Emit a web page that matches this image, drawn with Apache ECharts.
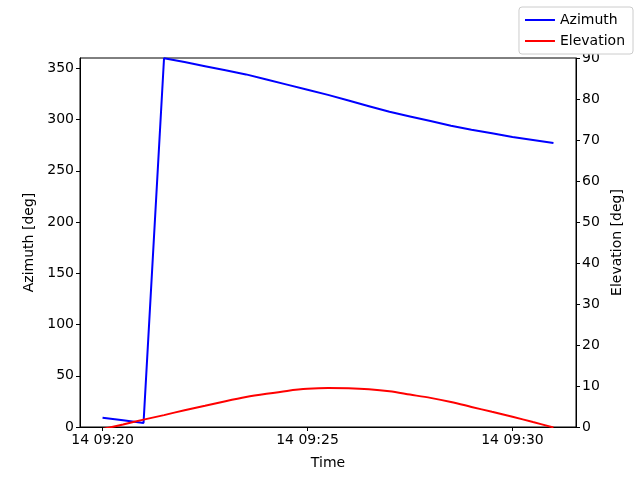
<!DOCTYPE html>
<html>
<head>
<meta charset="utf-8">
<script src="https://cdn.jsdelivr.net/npm/echarts@6/dist/echarts.min.js"></script>
<style>
  html, body { margin: 0; padding: 0; background: #fff; }
  #chart { width: 640px; height: 480px; }
</style>
</head>
<body>
<div id="chart"></div>
<script>
// sample times (day 14), every 30 s
var day = '14'
var times = ['09:20:00','09:20:30','09:21:00','09:21:30','09:22:00','09:22:30','09:23:00','09:23:30',
  '09:24:00','09:24:30','09:25:00','09:25:30','09:26:00','09:26:30','09:27:00','09:27:30',
  '09:28:00','09:28:30','09:29:00','09:29:30','09:30:00','09:30:30','09:31:00']
var azimuth = [9, 6.5, 4, 359.8, 356, 352, 348, 344, 339, 334, 329, 324, 318.5, 313,
  307.5, 303, 298.5, 294, 290, 286.5, 283, 280, 277]
var elevation = [-0.5, 0.6, 1.8, 2.9, 4.1, 5.2, 6.3, 7.3, 8.1, 8.8, 9.3, 9.5, 9.45, 9.2,
  8.7, 7.9, 7.1, 6.1, 4.9, 3.7, 2.5, 1.2, -0.1]
var timeTicks = ['09:20:00', '09:25:00', '09:30:00']
var azTicks = [0, 50, 100, 150, 200, 250, 300, 350]

// time string -> minutes of the hour
function toMin(s) {
  var p = s.split(':')
  return (+p[0]) * 60 + (+p[1]) + (+p[2]) / 60
}
function fmt(v) {
  var h = Math.floor(v / 60), m = Math.round(v - h * 60)
  return day + ' ' + String(h).padStart(2, '0') + ':' + String(m).padStart(2, '0')
}

var tx = times.map(toMin)
var t0 = tx[0], t1 = tx[tx.length - 1]
var pad = (t1 - t0) * 0.05

var chart = echarts.init(document.getElementById('chart'))
var font = 'DejaVu Sans'
var axisCommon = {
  axisLine: { show: true, lineStyle: { color: '#000', width: 1 } },
  axisTick: { show: true, inside: false, length: 4, lineStyle: { color: '#000' } },
  axisLabel: { color: '#000', fontSize: 14, fontFamily: font },
  splitLine: { show: false },
  nameTextStyle: { color: '#000', fontSize: 14, fontFamily: font }
}

var option = {
  animation: false,
  backgroundColor: '#fff',
  textStyle: { fontFamily: font },
  grid: {
    left: 80, right: 64, top: 58, bottom: 53,
    show: true, borderColor: '#000', borderWidth: 1
  },
  legend: {
    orient: 'vertical',
    right: 7, top: 7,
    icon: 'rect',
    itemWidth: 30, itemHeight: 2,
    itemGap: 7,
    padding: [6, 8, 6, 6],
    backgroundColor: '#fff',
    borderColor: '#ccc', borderWidth: 1, borderRadius: 3,
    textStyle: { color: '#000', fontSize: 14, fontFamily: font },
    data: ['Azimuth', 'Elevation']
  },
  xAxis: Object.assign({}, axisCommon, {
    type: 'value',
    min: t0 - pad, max: t1 + pad,
    name: 'Time', nameLocation: 'middle', nameGap: 29,
    axisLabel: Object.assign({}, axisCommon.axisLabel, {
      customValues: timeTicks.map(toMin), formatter: fmt, margin: 6
    }),
    axisTick: Object.assign({}, axisCommon.axisTick, { customValues: timeTicks.map(toMin) })
  }),
  yAxis: [
    Object.assign({}, axisCommon, {
      type: 'value', min: 0, max: 360, position: 'left',
      name: 'Azimuth [deg]', nameLocation: 'middle', nameGap: 42,
      axisLabel: Object.assign({}, axisCommon.axisLabel, { customValues: azTicks, margin: 6 }),
      axisTick: Object.assign({}, axisCommon.axisTick, { customValues: azTicks })
    }),
    Object.assign({}, axisCommon, {
      type: 'value', min: 0, max: 90, interval: 10, position: 'right',
      name: 'Elevation [deg]', nameLocation: 'middle', nameGap: 33,
      axisLabel: Object.assign({}, axisCommon.axisLabel, { margin: 6 })
    })
  ],
  series: [
    {
      name: 'Azimuth', type: 'line', yAxisIndex: 0,
      data: tx.map(function (t, i) { return [t, azimuth[i]] }),
      showSymbol: false, clip: true,
      lineStyle: { color: '#0000ff', width: 2 }, itemStyle: { color: '#0000ff' }
    },
    {
      name: 'Elevation', type: 'line', yAxisIndex: 1,
      data: tx.map(function (t, i) { return [t, elevation[i]] }),
      showSymbol: false, clip: true, smooth: 0.3,
      lineStyle: { color: '#ff0000', width: 2 }, itemStyle: { color: '#ff0000' }
    }
  ]
}
chart.setOption(option)
</script>
</body>
</html>
